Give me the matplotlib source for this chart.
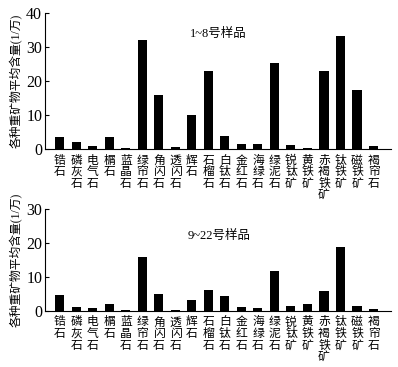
import matplotlib
matplotlib.use('agg')
import matplotlib.pyplot as plt
import numpy as np

plt.rcParams['font.family'] = ['Liberation Serif', 'Noto Sans CJK SC']

# minerals
minerals = ["锆石", "磷灰石", "电气石", "榍石", "蓝晶石", "绿帘石", "角闪石", "透闪石", "辉石",
            "石榴石", "白钛石", "金红石", "海绿石", "绿泥石", "锐钛矿", "黄铁矿", "赤褐铁矿",
            "钛铁矿", "磁铁矿", "褐帘石"]
# average content (1/万)
samples_1_8 = [3.5, 2.1, 0.9, 3.5, 0.4, 31.9, 15.8, 0.6, 9.9, 22.9,
               3.8, 1.5, 1.5, 25.3, 1.1, 0.4, 22.9, 33.1, 17.4, 1.0]
samples_9_22 = [4.7, 1.1, 0.8, 2.1, 0.2, 15.8, 4.9, 0.2, 3.2, 6.1,
                4.5, 1.2, 0.8, 11.8, 1.4, 1.9, 5.9, 18.9, 1.3, 0.5]
titles = ["1~8号样品", "9~22号样品"]
yticks_top = [0, 10, 20, 30, 40]
yticks_bot = [0, 10, 20, 30]

fig = plt.figure(figsize=(3.98, 3.67), dpi=100)
ax1 = fig.add_axes([0.113, 0.594, 0.869, 0.371])
ax2 = fig.add_axes([0.113, 0.153, 0.869, 0.278])

x = np.arange(len(minerals))
vlabels = ['\n'.join(m) for m in minerals]

for ax, vals, title, yt, tpos in [(ax1, samples_1_8, titles[0], yticks_top, (7.9, 33.9)),
                                  (ax2, samples_9_22, titles[1], yticks_bot, (7.75, 21.9))]:
    ax.bar(x, vals, width=0.55, color='black')
    ax.set_xlim(-0.9, 20.05)
    ax.set_ylim(0, yt[-1])
    ax.set_yticks(yt)
    ax.set_xticks(x)
    ax.set_xticklabels(vlabels, fontsize=8.5, linespacing=0.95)
    ax.tick_params(axis='x', length=0, pad=4)
    ax.tick_params(axis='y', direction='in', length=3, labelsize=11.5, pad=2)
    ax.spines['top'].set_visible(False)
    ax.spines['right'].set_visible(False)
    ax.spines['left'].set_linewidth(0.8)
    ax.spines['bottom'].set_linewidth(0.8)
    ax.set_ylabel("各种重矿物平均含量(1/万)", fontsize=8.5, labelpad=2)
    ax.text(tpos[0], tpos[1], title, fontsize=9, va='center', ha='left')

fig.savefig('out.png', dpi=100)
